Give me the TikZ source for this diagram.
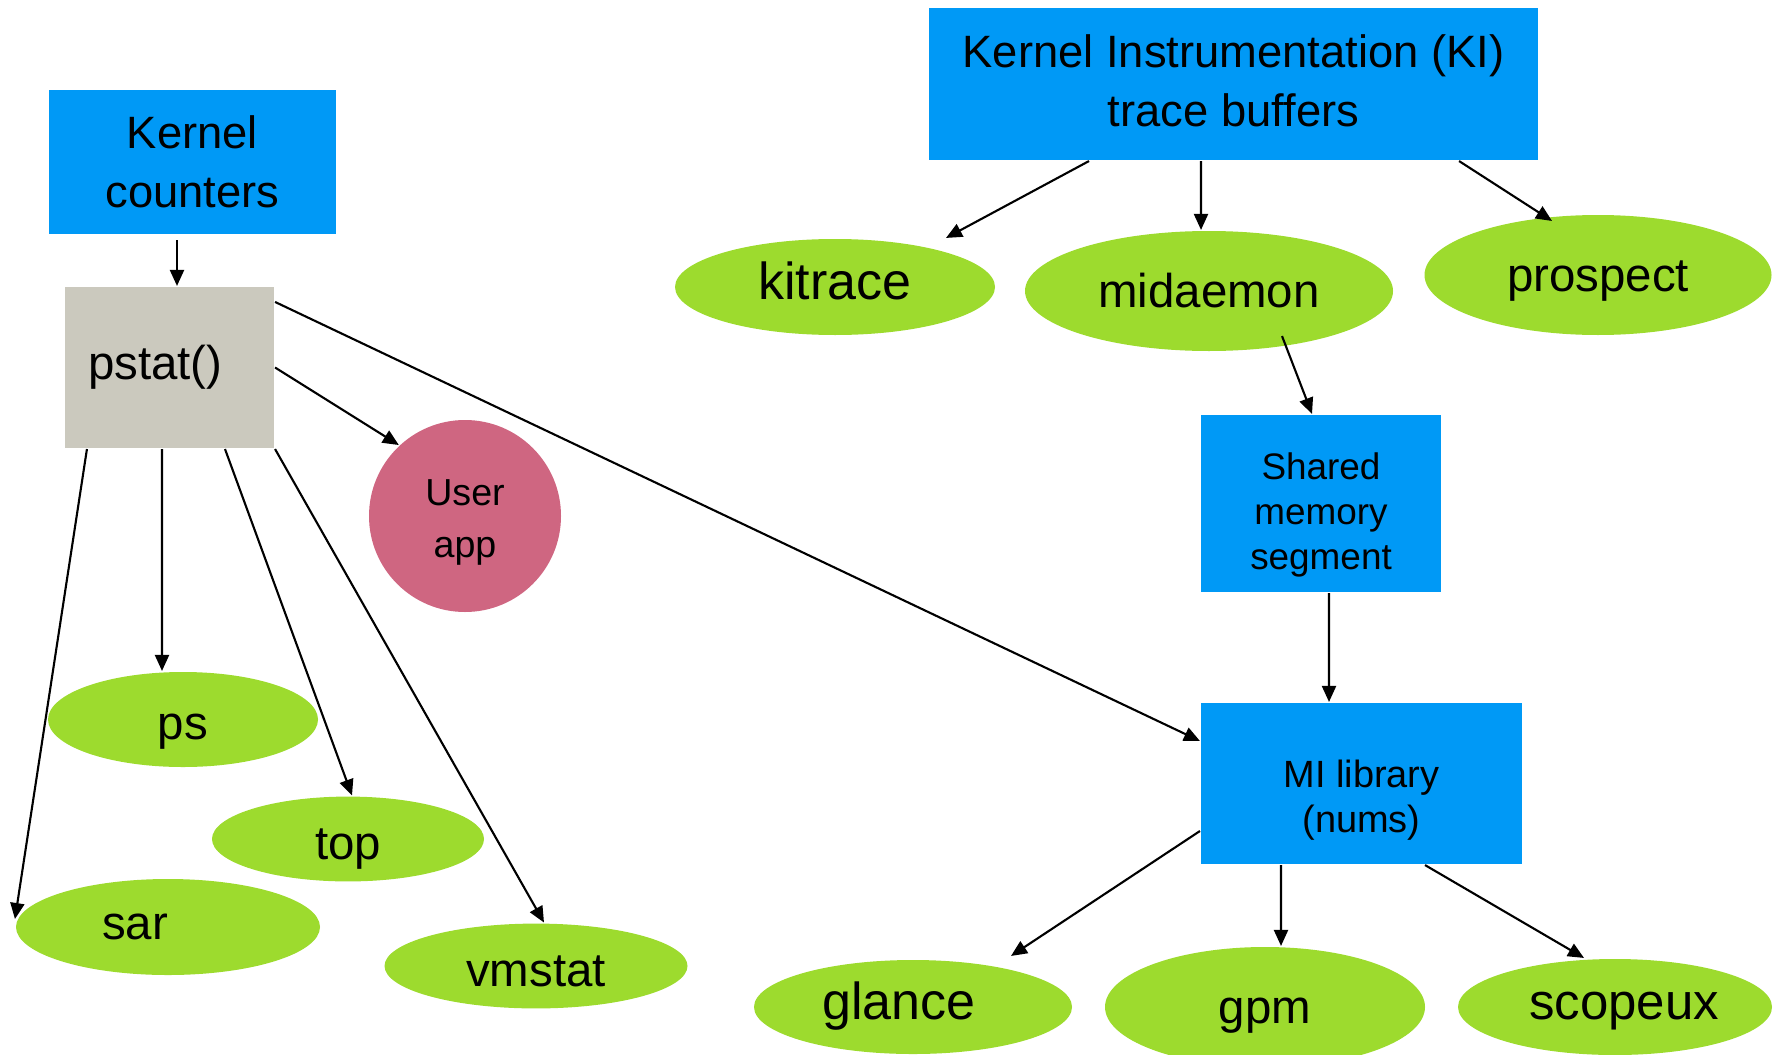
\documentclass[tikz,border=0pt]{standalone}
\usepackage{fontspec}
\setmainfont{Liberation Sans}
\usetikzlibrary{arrows.meta,shapes.geometric,positioning}

\definecolor{kblue}{RGB}{0,153,246}
\definecolor{kgreen}{RGB}{157,219,46}
\definecolor{kgray}{RGB}{203,201,190}
\definecolor{kpink}{RGB}{207,102,129}

\tikzstyle{src} = [rectangle, fill=kblue, draw=none, align=center, inner sep=0pt, font=\fontsize{12.9}{16.8}\selectfont]
\tikzstyle{lib} = [rectangle, fill=kblue, draw=none, align=center, inner sep=0pt, font=\fontsize{10.5}{12.8}\selectfont]
\tikzstyle{proc} = [rectangle, fill=kgray, draw=none, align=left, text width=1.63cm, inner xsep=0.23cm, inner ysep=0pt, minimum height=1.61cm, font=\fontsize{13.5}{16.8}\selectfont]
\tikzstyle{app} = [circle, fill=kpink, draw=none, align=center, inner sep=0pt, minimum size=1.92cm, font=\fontsize{10.7}{14.8}\selectfont]
\tikzstyle{tool} = [ellipse, fill=kgreen, draw=none, inner sep=0pt, text height=0.42cm, text depth=0.1cm, font=\fontsize{13.5}{16}\selectfont]

\begin{document}
\begin{tikzpicture}[-,auto,node distance=2.5cm,semithick,>={Triangle[length=0.16cm,width=0.14cm]}]
\useasboundingbox (0,0) rectangle (17.79,-10.54);

\node[src, minimum width=2.87cm, minimum height=1.44cm] (kernel) at (1.925,-1.62) {Kernel\\counters};
\node[src, minimum width=6.09cm, minimum height=1.52cm] (ki) at (12.335,-0.84) {Kernel Instrumentation (KI)\\trace buffers\rule[-0.07cm]{0pt}{0.07cm}};

\node[proc] (pstat) [below of=kernel, xshift=-0.23cm, yshift=0.445cm] {pstat()};
\node[app] (user) [right of=pstat, xshift=0.455cm, yshift=-1.485cm] {\rule{0pt}{0.39cm}User\\app};

\node[tool, minimum width=2.70cm, minimum height=0.95cm, text height=0.50cm] (ps) [below of=pstat, xshift=0.135cm, yshift=-1.02cm] {ps};
\node[tool, minimum width=2.72cm, minimum height=0.80cm, text height=0.50cm] (top) [below of=ps, xshift=1.65cm, yshift=1.305cm] {top};
\node[tool, minimum width=3.04cm, minimum height=0.96cm, text height=0.34cm] (sar) [below of=ps, xshift=-0.15cm, yshift=0.425cm] {sar\hspace*{0.66cm}};
\node[tool, minimum width=3.03cm, minimum height=0.80cm, text height=0.50cm] (vmstat) [right of=sar, xshift=1.18cm, yshift=-0.39cm] {vmstat};

\node[tool, minimum width=3.20cm, minimum height=0.96cm, text height=0.34cm, font=\fontsize{14.8}{16}\selectfont] (kitrace) [below of=ki, xshift=-3.985cm, yshift=0.47cm] {kitrace};
\node[tool, minimum width=3.68cm, minimum height=1.20cm] (midaemon) [below of=ki, xshift=-0.245cm, yshift=0.43cm] {midaemon};
\node[tool, minimum width=3.47cm, minimum height=1.20cm] (prospect) [below of=ki, xshift=3.645cm, yshift=0.59cm] {prospect};

\node[lib, minimum width=2.40cm, minimum height=1.77cm] (shared) [below of=midaemon, xshift=1.12cm, yshift=0.375cm] {\rule{0pt}{0.50cm}Shared\\memory\\segment};
\node[lib, minimum width=3.21cm, minimum height=1.61cm, font=\fontsize{10.8}{12.8}\selectfont] (mi) [below of=shared, xshift=0.405cm, yshift=-0.3cm] {\rule{0pt}{0.60cm}MI library\\(nums)};

\node[tool, minimum width=3.20cm, minimum height=1.20cm] (gpm) [below of=mi, xshift=-0.965cm, yshift=0.265cm] {gpm};
\node[tool, minimum width=3.18cm, minimum height=0.94cm, text height=0.34cm, font=\fontsize{14.8}{16}\selectfont] (glance) [left of=gpm, xshift=-1.02cm] {glance\hspace*{0.28cm}};
\node[tool, minimum width=3.14cm, minimum height=0.96cm, text height=0.34cm, font=\fontsize{14.5}{16}\selectfont] (scopeux) [right of=gpm, xshift=1.0cm] {\hspace*{0.18cm}scopeux};

% kernel counters side
\draw[->] ([xshift=-0.155cm,yshift=-0.05cm]kernel.south) -- ([xshift=0.075cm]pstat.north);
\draw[->] (pstat.east) -- (user.133);
\draw[->] ([yshift=-0.16cm]pstat.north east) -- ([yshift=0.425cm]mi.west);
\draw[->] ([xshift=-0.075cm]pstat.south) -- ([xshift=-0.21cm]ps.north);
\draw[->] ([xshift=0.23cm]pstat.south west) -- ([yshift=0.08cm]sar.west);
\draw[->] ([xshift=0.555cm]pstat.south) -- ([xshift=0.04cm]top.north);
\draw[->] (pstat.south east) -- ([xshift=0.08cm]vmstat.north);

% KI side
\draw[->] ([xshift=-1.445cm]ki.south) -- ([xshift=1.11cm]kitrace.north);
\draw[->] ([xshift=-0.325cm]ki.south) -- ([xshift=-0.08cm]midaemon.north);
\draw[->] ([xshift=-0.8cm]ki.south east) -- ([xshift=-0.46cm,yshift=-0.07cm]prospect.north);
\draw[->] ([xshift=0.73cm,yshift=0.16cm]midaemon.south) -- ([xshift=-0.09cm]shared.north);
\draw[->] ([xshift=0.08cm]shared.south) -- ([xshift=-0.325cm]mi.north);
\draw[->] ([yshift=-0.475cm]mi.west) -- ([xshift=0.98cm,yshift=0.03cm]glance.north);
\draw[->] ([xshift=-0.805cm]mi.south) -- ([xshift=0.16cm]gpm.north);
\draw[->] ([xshift=0.635cm]mi.south) -- ([xshift=-0.31cm]scopeux.north);

\end{tikzpicture}
\end{document}
